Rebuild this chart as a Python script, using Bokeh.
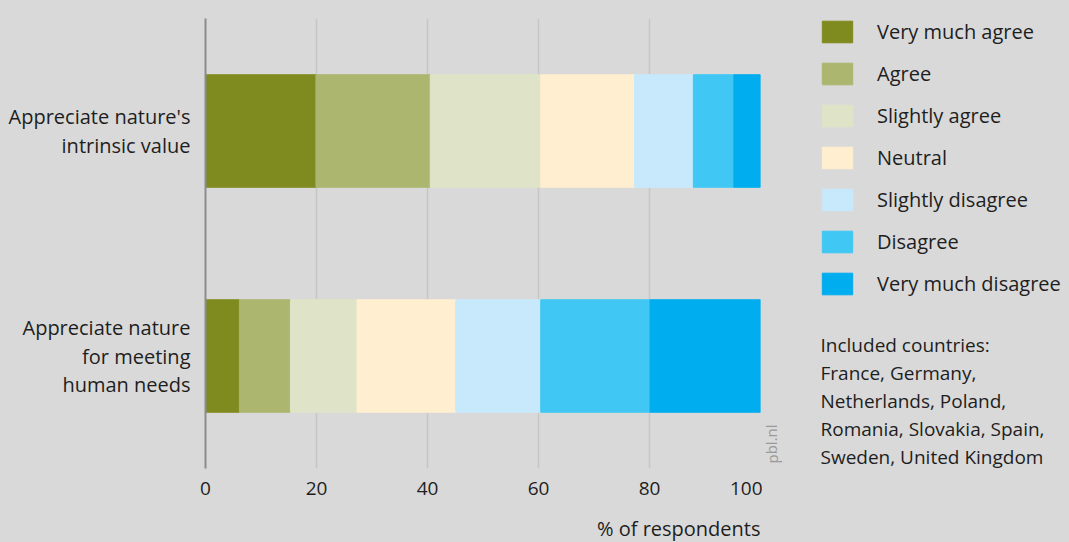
from bokeh.plotting import figure
from bokeh.layouts import row, column
from bokeh.models import ColumnDataSource, FactorRange, Legend, LegendItem, Label, FixedTicker
from bokeh.embed import file_html
from bokeh.resources import INLINE

# ---- data ----
statements = ["Appreciate nature\nfor meeting\nhuman needs", "Appreciate nature's\nintrinsic value"]
responses = ["Very much agree", "Agree", "Slightly agree", "Neutral",
             "Slightly disagree", "Disagree", "Very much disagree"]
colors = ["#808b1f", "#acb66f", "#dfe3c7", "#ffeecf", "#c7e9fb", "#40c7f4", "#00adee"]
very_much_agree = [6.1, 19.9]
agree = [9.2, 20.6]
slightly_agree = [12.0, 19.9]
neutral = [17.8, 16.9]
slightly_disagree = [15.3, 10.6]
disagree = [19.7, 7.3]
very_much_disagree = [19.9, 4.8]
x_ticks = [0, 20, 40, 60, 80, 100]
countries_lines = ["Included countries:", "France, Germany,", "Netherlands, Poland,",
                   "Romania, Slovakia, Spain,", "Sweden, United Kingdom"]
x_title = "% of respondents"
source_note = "pbl.nl"

FONT = "Open Sans"
BG = "#d9d9d9"
TXT = "#1e1e1e"

source = ColumnDataSource(data={
    "statement": statements,
    responses[0]: very_much_agree,
    responses[1]: agree,
    responses[2]: slightly_agree,
    responses[3]: neutral,
    responses[4]: slightly_disagree,
    responses[5]: disagree,
    responses[6]: very_much_disagree,
})

TOP_H = 510

# ---- main chart ----
p = figure(width=762, height=TOP_H, output_backend="svg", toolbar_location=None,
           y_range=FactorRange(*statements, range_padding=0), x_range=(0, 100),
           min_border_left=205, min_border_top=18, min_border_right=2, min_border_bottom=42)
p.background_fill_color = BG
p.border_fill_color = BG
p.outline_line_color = None

renderers = p.hbar_stack(responses, y="statement", height=0.5, color=colors, source=source)

p.xaxis.ticker = FixedTicker(ticks=x_ticks)
p.xaxis.axis_line_color = None
p.xaxis.major_tick_line_color = None
p.xaxis.minor_tick_line_color = None
p.xaxis.major_label_standoff = 7
p.xaxis.major_label_text_font = FONT
p.xaxis.major_label_text_font_size = "19px"
p.xaxis.major_label_text_color = TXT

p.yaxis.axis_line_color = "#8c8c8c"
p.yaxis.axis_line_width = 2
p.yaxis.major_tick_line_color = None
p.yaxis.minor_tick_line_color = None
p.yaxis.major_label_standoff = 9
p.yaxis.major_label_text_font = FONT
p.yaxis.major_label_text_font_size = "20px"
p.yaxis.major_label_text_color = TXT
p.yaxis.major_label_text_line_height = 1.05

p.xgrid.grid_line_color = "#c6c6c6"
p.xgrid.grid_line_width = 1.5
p.ygrid.grid_line_color = None

# ---- side panel: legend, note, countries (frame aligned with main: y 18..468) ----
p2 = figure(width=307, height=TOP_H, output_backend="svg", toolbar_location=None,
            x_range=(0, 307), y_range=(0, 450), x_axis_location=None, y_axis_location=None,
            min_border_left=0, min_border_right=0, min_border_top=18, min_border_bottom=42)
p2.background_fill_color = BG
p2.border_fill_color = BG
p2.outline_line_color = None
p2.grid.grid_line_color = None

nan = float("nan")
dummies = [p2.hbar(y=[nan], left=[nan], right=[nan], height=1, color=c) for c in colors]
items = [LegendItem(label=r, renderers=[d]) for r, d in zip(responses, dummies)]
legend = Legend(items=items, location=(56, 171), orientation="vertical",
                glyph_width=38, glyph_height=27, label_height=27, spacing=15,
                label_standoff=21, label_text_font=FONT, label_text_font_size="20px",
                label_text_color=TXT, padding=0, margin=0,
                border_line_color=None, background_fill_alpha=0)
p2.add_layout(legend)

p2.add_layout(Label(x=9, y=5, x_units="screen", y_units="screen", text=source_note,
                    angle=1.5708, text_align="left", text_baseline="middle",
                    text_font=FONT, text_font_size="15px", text_color="#9a9a9a"))

for i, line in enumerate(countries_lines):
    p2.add_layout(Label(x=58, y=124 - 28 * i, x_units="screen", y_units="screen",
                        text=line, text_align="left", text_baseline="middle",
                        text_font=FONT, text_font_size="19px", text_color=TXT))

# ---- bottom strip: x-axis title, right-aligned to 100 ----
p3 = figure(width=1069, height=542 - TOP_H, output_backend="svg", toolbar_location=None,
            x_range=p.x_range, y_range=(0, 1), x_axis_location=None, y_axis_location=None,
            min_border_left=205, min_border_right=309, min_border_top=0, min_border_bottom=0)
p3.background_fill_color = BG
p3.border_fill_color = BG
p3.outline_line_color = None
p3.grid.grid_line_color = None
p3.add_layout(Label(x=100, y=14, y_units="screen", text=x_title, text_align="right",
                    text_baseline="middle", text_font=FONT, text_font_size="20px",
                    text_color=TXT))

layout = column(row(p, p2, spacing=0), p3, spacing=0)
html = file_html(layout, INLINE)
html = html.replace("<body>", '<body style="background-color:#d9d9d9;">')
open("out.html", "w").write(html)
